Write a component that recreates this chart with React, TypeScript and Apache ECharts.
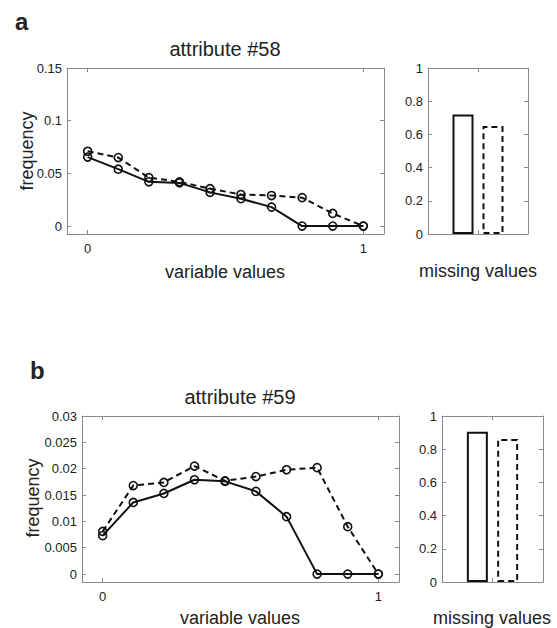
import React, { useEffect, useRef } from "react";
import * as echarts from "echarts";

// ---- data ----
const xValues = [0, 0.111, 0.222, 0.333, 0.444, 0.556, 0.667, 0.778, 0.889, 1];
const attr58Solid = [0.0655, 0.054, 0.042, 0.041, 0.032, 0.026, 0.018, 0, 0, 0];
const attr58Dashed = [0.071, 0.065, 0.046, 0.042, 0.0355, 0.03, 0.029, 0.027, 0.012, 0];
const attr59Solid = [0.0073, 0.0136, 0.0153, 0.0179, 0.0176, 0.0157, 0.0109, 0, 0, 0];
const attr59Dashed = [0.0081, 0.0168, 0.0174, 0.0205, 0.0177, 0.0185, 0.0198, 0.0202, 0.009, 0];
const missing58 = [0.72, 0.65];
const missing59 = [0.905, 0.862];
const barPositions = [0.35, 0.65];
const ticks58 = [0, 0.05, 0.1, 0.15];
const ticks59 = [0, 0.005, 0.01, 0.015, 0.02, 0.025, 0.03];
const barTicks = [0, 0.2, 0.4, 0.6, 0.8, 1];
const xTicks = [0, 1];
const barXTicks = [0.5];

const FONT = "'Liberation Sans', Arial, Helvetica, sans-serif";
const AXIS_COLOR = "#8a8a8a";
const TEXT_COLOR = "#222";

function axisPair(
  kind: "x" | "y",
  gridIndex: number,
  min: number,
  max: number,
  ticks: number[],
  showLabels: boolean
) {
  const common = {
    type: "value",
    gridIndex,
    min,
    max,
    splitLine: { show: false },
    axisLine: { show: true, onZero: false, lineStyle: { color: AXIS_COLOR, width: 1 } },
    axisTick: {
      show: true,
      inside: true,
      length: 4,
      customValues: ticks,
      lineStyle: { color: AXIS_COLOR, width: 1 },
    },
  };
  const main = {
    ...common,
    position: kind === "x" ? "bottom" : "left",
    axisLabel: {
      show: showLabels,
      customValues: ticks,
      color: TEXT_COLOR,
      fontSize: 13,
      fontFamily: FONT,
      margin: kind === "x" ? 8 : 5,
    },
  };
  const opposite = {
    ...common,
    position: kind === "x" ? "top" : "right",
    axisLabel: { show: false, customValues: ticks },
  };
  return [main, opposite];
}

function lineSeries(xi: number, yi: number, values: number[], dashed: boolean) {
  return {
    type: "line",
    xAxisIndex: xi,
    yAxisIndex: yi,
    data: xValues.map((x, i) => [x, values[i]]),
    symbol: "circle",
    symbolSize: 8,
    itemStyle: { color: "rgba(0,0,0,0)", borderColor: "#111", borderWidth: 1.6 },
    lineStyle: { color: "#111", width: 2, type: dashed ? [6, 4] : "solid" },
    z: dashed ? 2 : 3,
  };
}

function barSeries(xi: number, yi: number, values: number[]) {
  return {
    type: "bar",
    xAxisIndex: xi,
    yAxisIndex: yi,
    barWidth: 21,
    data: values.map((v, i) => ({
      value: [barPositions[i], v],
      itemStyle: {
        color: "rgba(255,255,255,0)",
        borderColor: "#111",
        borderWidth: 2,
        borderType: i === 0 ? "solid" : [6, 4],
      },
    })),
  };
}

function txt(text: string, x: number, y: number, size: number, opts: any = {}) {
  return {
    type: "text",
    x,
    y,
    rotation: opts.rotation || 0,
    style: {
      text,
      fill: TEXT_COLOR,
      fontSize: size,
      fontFamily: FONT,
      fontWeight: opts.bold ? "bold" : "normal",
      align: opts.align || "center",
      verticalAlign: "middle",
    },
  };
}

export default function App() {
  const ref = useRef<HTMLDivElement>(null);
  useEffect(() => {
    if (!ref.current) return;
    const chart = echarts.init(ref.current, undefined, { renderer: "svg" });

    const grids = [
      { left: 67, top: 68, width: 317, height: 166 },
      { left: 428, top: 68, width: 100, height: 166 },
      { left: 82, top: 416, width: 317, height: 166 },
      { left: 442, top: 416, width: 101, height: 166 },
    ];

    const xAxis = [
      ...axisPair("x", 0, -0.075, 1.075, xTicks, true), // 0,1
      ...axisPair("x", 1, 0, 1, barXTicks, false), // 2,3
      ...axisPair("x", 2, -0.075, 1.075, xTicks, true), // 4,5
      ...axisPair("x", 3, 0, 1, barXTicks, false), // 6,7
    ];
    const yAxis = [
      ...axisPair("y", 0, -0.0075, 0.15, ticks58, true),
      ...axisPair("y", 1, 0, 1, barTicks, true),
      ...axisPair("y", 2, -0.0015, 0.03, ticks59, true),
      ...axisPair("y", 3, 0, 1, barTicks, true),
    ];

    const series = [
      lineSeries(0, 0, attr58Dashed, true),
      lineSeries(0, 0, attr58Solid, false),
      barSeries(2, 2, missing58),
      lineSeries(4, 4, attr59Dashed, true),
      lineSeries(4, 4, attr59Solid, false),
      barSeries(6, 6, missing59),
    ];

    const graphic = [
      txt("a", 15, 21, 24, { bold: true, align: "left" }),
      txt("b", 30, 370, 24, { bold: true, align: "left" }),
      txt("attribute #58", 225, 49, 20),
      txt("frequency", 27, 151, 18, { rotation: Math.PI / 2 }),
      txt("variable values", 225, 272, 18),
      txt("missing values", 478, 271, 18),
      txt("attribute #59", 240, 397, 20),
      txt("frequency", 33, 498, 18, { rotation: Math.PI / 2 }),
      txt("variable values", 240, 618, 18),
      txt("missing values", 492, 618, 18),
    ];

    chart.setOption({
      animation: false,
      backgroundColor: "#fff",
      grid: grids,
      xAxis,
      yAxis,
      series,
      graphic,
    });
    return () => chart.dispose();
  }, []);
  return (
    <div
      ref={ref}
      style={{ position: "absolute", left: 0, top: 0, width: 557, height: 628 }}
    />
  );
}
